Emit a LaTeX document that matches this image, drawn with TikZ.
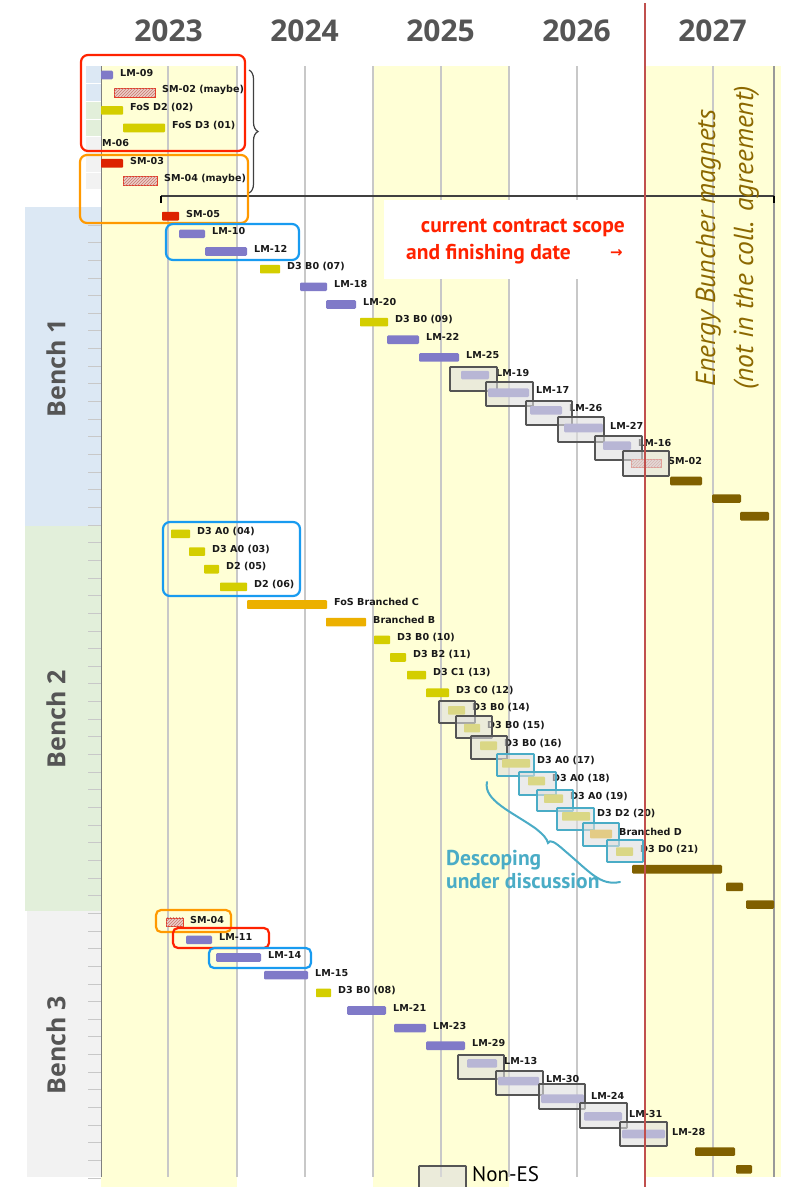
\documentclass[tikz,border=0pt]{standalone}
\usepackage{fontspec}
\setmainfont{DejaVu Sans}
\newfontfamily\osans{Open Sans}
\newfontfamily\pts{PT Sans}
\newfontfamily\djv{DejaVu Sans}
\usetikzlibrary{patterns,decorations.pathreplacing}
\definecolor{yelbg}{RGB}{255,255,214}
\definecolor{gridc}{RGB}{200,200,200}
\definecolor{purp}{RGB}{128,122,200}
\definecolor{yelb}{RGB}{212,206,0}
\definecolor{orab}{RGB}{236,176,0}
\definecolor{redbar}{RGB}{221,34,0}
\definecolor{brownb}{RGB}{128,96,0}
\definecolor{hatchbg}{RGB}{236,205,200}
\definecolor{hatchln}{RGB}{200,120,110}
\definecolor{hatchred}{RGB}{230,60,40}
\definecolor{bonec}{RGB}{220,232,244}
\definecolor{btwoc}{RGB}{226,239,218}
\definecolor{bthreec}{RGB}{242,242,242}
\definecolor{yeargray}{RGB}{85,85,85}
\definecolor{hlred}{RGB}{255,34,0}
\definecolor{hlorange}{RGB}{255,153,0}
\definecolor{hlblue}{RGB}{24,155,240}
\definecolor{tealc}{RGB}{74,172,198}
\definecolor{nesfill}{RGB}{222,222,222}
\definecolor{nesline}{RGB}{85,85,85}
\definecolor{redline}{RGB}{192,80,77}
\definecolor{olivet}{RGB}{140,104,0}
\definecolor{lblc}{RGB}{25,25,25}
\newcommand\ry[1]{75+17.65*#1}
\newcommand\gtask[6]{%
  \path[#1] (#4,{\ry{#3}-4.3}) rectangle (#5,{\ry{#3}+4.3});
  \node[lbl] (#2) at ({#5+7},{\ry{#3}-2.5}) {#6};}
\newcommand\gbar[4]{\path[#1] (#3,{\ry{#2}-4.3}) rectangle (#4,{\ry{#2}+4.3});}
\newcommand\nes[5]{\path[sNes,draw=#1] (#2,#3) rectangle (#4,#5);}
\begin{document}
\begin{tikzpicture}[x=1pt,y=-1pt,
  lbl/.style={anchor=west,inner sep=0pt,font=\djv\bfseries\fontsize{9.6}{10}\selectfont,text=lblc},
  sPurp/.style={fill=purp,rounded corners=1.2pt},
  sYel/.style={fill=yelb,rounded corners=0.8pt},
  sOra/.style={fill=orab,rounded corners=0.8pt},
  sRed/.style={fill=redbar,rounded corners=0.8pt},
  sBrown/.style={fill=brownb,rounded corners=1.2pt},
  sHatch/.style={fill=hatchbg,draw=hatchred,line width=0.8pt,postaction={pattern=north east lines,pattern color=hatchln}},
  sNes/.style={fill=nesfill,fill opacity=0.6,line width=1.8pt,rounded corners=0.6pt},
  hl/.style={line width=2.2pt,rounded corners=7pt},
  yr/.style={font=\osans\bfseries\fontsize{30}{30}\selectfont,text=yeargray,inner sep=0pt},
  bench/.style={rotate=90,font=\osans\bfseries\fontsize{25}{25}\selectfont,text=yeargray,inner sep=0pt},
  grid/.style={draw=gridc,line width=1.1pt},
  tickl/.style={draw=gridc,line width=0.9pt},
  scopet/.style={font=\pts\bfseries\fontsize{21.5}{24}\selectfont,text=hlred,inner sep=0pt},
  desct/.style={font=\pts\bfseries\fontsize{21.5}{23}\selectfont,text=tealc,inner sep=0pt},
  ebt/.style={rotate=90,font=\pts\itshape\fontsize{27.5}{28}\selectfont,text=olivet,inner sep=0pt}]
\useasboundingbox (0,0) rectangle (785,1187);
\fill[white] (0,0) rectangle (785,1187);
% year bands
\fill[yelbg] (101,66) rectangle (237,1187);
\fill[yelbg] (373,66) rectangle (509,1187);
\fill[yelbg] (645,66) rectangle (781,1177);
% bench columns
\fill[bonec] (25,{\ry{7.5}}) rectangle (101,526);
\fill[btwoc] (25,526) rectangle (101,911);
\fill[bthreec] (27,911) rectangle (101,1177);
\fill[bonec] (86,{\ry{-0.5}}) rectangle (101,{\ry{1.5}});
\fill[btwoc] (86,{\ry{1.5}}) rectangle (101,{\ry{3.5}});
\fill[bthreec] (86,{\ry{3.5}}) rectangle (101,{\ry{6.5}});
\foreach \k in {0,...,6} \draw[white,line width=0.9pt] (86,{\ry{(\k+0.5)}}) -- (101,{\ry{(\k+0.5)}});
\foreach \k in {8,...,62} \draw[tickl] (88,{\ry{(\k+0.5)}}) -- (101,{\ry{(\k+0.5)}});
% grid
\foreach \gx in {168,237,305,373,441,509,577,713} \draw[grid] (\gx,66) -- (\gx,1177);
\draw[gray!80,line width=1.5pt] (774,66) -- (774,1177);
\draw[gray,line width=1pt] (101,66) -- (101,1177);
% year labels
\node[yr] (y2023) at (168.5,31) {2023};
\node[yr] (y2024) at (304.5,31) {2024};
\node[yr] (y2025) at (440.5,31) {2025};
\node[yr] (y2026) at (576.5,31) {2026};
\node[yr] (y2027) at (712.5,31) {2027};
% bench labels
\node[bench] (bench1) at (56,368) {Bench 1};
\node[bench] (bench2) at (56,719) {Bench 2};
\node[bench] (bench3) at (56,1045) {Bench 3};
% contract scope
\fill[white] (384,200) rectangle (641,279);
\draw[black!75,line width=1.5pt] (161,196) -- (774,196);
\draw[black,line width=2pt] (161,195.5) -- (161,203);
\draw[black,line width=2pt] (774,195.5) -- (774,203);
\node[scopet,anchor=base east] (scope1) at (625,232) {current contract scope};
\node[scopet,anchor=base west] (scope2) at (406,259) {and finishing date};
\node[scopet,anchor=base east,font=\djv\bfseries\fontsize{15}{15}\selectfont] (scopearrow) at (623,257) {→};
\draw[black!75,line width=1.2pt,decorate,decoration={brace,amplitude=9pt}] (249,70) -- (249,193);
% energy buncher
\node[ebt,anchor=base west] (eb1) at (715,387) {Energy Buncher magnets};
\node[ebt,anchor=base west] (eb2) at (753,390) {(not in the coll. agreement)};
% top rows
\gtask{sPurp}{lm09}{0}{101}{113}{LM-09}
\gtask{sHatch}{sm02a}{1}{114}{155}{SM-02 (maybe)}
\gtask{sYel}{fosdtwo}{2}{101}{123}{FoS D2 (02)}
\gtask{sYel}{fosdthree}{3}{123}{165}{FoS D3 (01)}
\node[lbl] (m06) at (102,{\ry{4}-2.5}) {M-06};
\gtask{sRed}{sm03}{5}{101}{123}{SM-03}
\gtask{sHatch}{sm04a}{6}{123}{157}{SM-04 (maybe)}
\gtask{sRed}{sm05}{8}{162}{179}{SM-05}
% bench 1
\gtask{sPurp}{lm10}{9}{179}{205}{LM-10}
\gtask{sPurp}{lm12}{10}{205}{247}{LM-12}
\gtask{sYel}{dbzseven}{11}{260}{280}{D3 B0 (07)}
\gtask{sPurp}{lm18}{12}{300}{327}{LM-18}
\gtask{sPurp}{lm20}{13}{326}{356}{LM-20}
\gtask{sYel}{dbznine}{14}{360}{388}{D3 B0 (09)}
\gtask{sPurp}{lm22}{15}{387}{419}{LM-22}
\gtask{sPurp}{lm25}{16}{419}{459}{LM-25}
\gtask{sPurp}{lm19}{17}{461}{489}{LM-19}
\nes{nesline}{450}{367}{497}{391}
\gtask{sPurp}{lm17}{18}{488}{529}{LM-17}
\nes{nesline}{486}{382}{533}{406}
\gtask{sPurp}{lm26}{19}{530}{562}{LM-26}
\nes{nesline}{526}{401}{572}{425}
\gtask{sPurp}{lm27}{20}{564}{603}{LM-27}
\nes{nesline}{558}{417}{604}{442}
\gtask{sPurp}{lm16}{21}{603}{631}{LM-16}
\nes{nesline}{595}{436}{642}{460}
\gtask{sHatch}{sm02b}{22}{631}{661}{SM-02}
\nes{nesline}{623}{451}{669}{476}
\gbar{sBrown}{23}{670}{702}
\gbar{sBrown}{24}{712}{741}
\gbar{sBrown}{25}{740}{769}
% bench 2
\gtask{sYel}{dazfour}{26}{171}{190}{D3 A0 (04)}
\gtask{sYel}{dazthree}{27}{189}{205}{D3 A0 (03)}
\gtask{sYel}{dtfive}{28}{204}{219}{D2 (05)}
\gtask{sYel}{dtsix}{29}{220}{247}{D2 (06)}
\gtask{sOra}{fosbc}{30}{247}{327}{FoS Branched C}
\gtask{sOra}{brb}{31}{326}{366}{Branched B}
\gtask{sYel}{dbzten}{32}{374}{390}{D3 B0 (10)}
\gtask{sYel}{dbteleven}{33}{390}{406}{D3 B2 (11)}
\gtask{sYel}{dcothirteen}{34}{407}{426}{D3 C1 (13)}
\gtask{sYel}{dczero}{35}{426}{449}{D3 C0 (12)}
\gtask{sYel}{dbzfourteen}{36}{448}{465}{D3 B0 (14)}
\nes{nesline}{439}{701}{475}{723}
\gtask{sYel}{dbzfifteen}{37}{464}{480}{D3 B0 (15)}
\nes{nesline}{456}{716}{492}{738}
\gtask{sYel}{dbzsixteen}{38}{480}{497}{D3 B0 (16)}
\nes{nesline}{471}{736}{507}{759}
\gtask{sYel}{dazseventeen}{39}{502}{530}{D3 A0 (17)}
\nes{tealc}{497}{754}{534}{776}
\gtask{sYel}{dazeighteen}{40}{528}{545}{D3 A0 (18)}
\nes{tealc}{519}{772}{556}{795}
\gtask{sYel}{daznineteen}{41}{544}{563}{D3 A0 (19)}
\nes{tealc}{537}{790}{573}{811}
\gtask{sYel}{ddtwenty}{42}{562}{590}{D3 D2 (20)}
\nes{tealc}{557}{808}{594}{830}
\gtask{sOra}{brd}{43}{590}{612}{Branched D}
\nes{tealc}{583}{823}{619}{846}
\gtask{sYel}{ddztwentyone}{44}{616}{633}{D3 D0 (21)}
\nes{tealc}{607}{840}{643}{862}
\gbar{sBrown}{45}{632}{722}
\gbar{sBrown}{46}{726}{743}
\gbar{sBrown}{47}{746}{774}
% bench 3
\gtask{sHatch}{sm04b}{48}{166}{183}{SM-04}
\gtask{sPurp}{lm11}{49}{186}{212}{LM-11}
\gtask{sPurp}{lm14}{50}{216}{261}{LM-14}
\gtask{sPurp}{lm15}{51}{264}{308}{LM-15}
\gtask{sYel}{dbzeight}{52}{316}{331}{D3 B0 (08)}
\gtask{sPurp}{lm21}{53}{347}{386}{LM-21}
\gtask{sPurp}{lm23}{54}{394}{426}{LM-23}
\gtask{sPurp}{lm29}{55}{426}{465}{LM-29}
\gtask{sPurp}{lm13}{56}{467}{497}{LM-13}
\nes{nesline}{458}{1055}{504}{1079}
\gtask{sPurp}{lm30}{57}{498}{539}{LM-30}
\nes{nesline}{496}{1071}{543}{1095}
\gtask{sPurp}{lm24}{58}{541}{584}{LM-24}
\nes{nesline}{539}{1084}{585}{1109}
\gtask{sPurp}{lm31}{59}{584}{622}{LM-31}
\nes{nesline}{580}{1103}{627}{1128}
\gtask{sPurp}{lm28}{60}{622}{665}{LM-28}
\nes{nesline}{620}{1122}{667}{1146}
\gbar{sBrown}{61}{695}{735}
\gbar{sBrown}{62}{736}{752}
% highlight boxes
\draw[hl,draw=hlred] (81,55) rectangle (245,151);
\draw[hl,draw=hlorange] (80,155) rectangle (248,223);
\draw[hl,draw=hlblue] (166,224) rectangle (299,260);
\draw[hl,draw=hlblue] (163,522) rectangle (300,596);
\draw[hl,draw=hlorange,rounded corners=5pt] (156,910) rectangle (231,932);
\draw[hl,draw=hlred,rounded corners=5pt] (173,928) rectangle (269,948);
\draw[hl,draw=hlblue,rounded corners=5pt] (209,948) rectangle (311,968);
% descoping
\draw[tealc,line width=2pt,line cap=round] (487,782) .. controls (483,800) and (512,812) .. (535,828) .. controls (544,835) and (547,839) .. (548,843) .. controls (550,839) and (555,842) .. (565,851) .. controls (590,872) and (600,886) .. (620,882);
\node[desct,anchor=base west] (desc1) at (446,865) {Descoping};
\node[desct,anchor=base west] (desc2) at (446,888) {under discussion};
% red date line
\draw[redline,line width=1.8pt] (645,3) -- (645,1187);
% legend
\path[sNes,draw=nesline] (419,1166) rectangle (466,1200);
\node[anchor=base west,inner sep=0pt,font=\pts\fontsize{21}{21}\selectfont] (legend) at (472,1181) {Non-ES};
\end{tikzpicture}
\end{document}
